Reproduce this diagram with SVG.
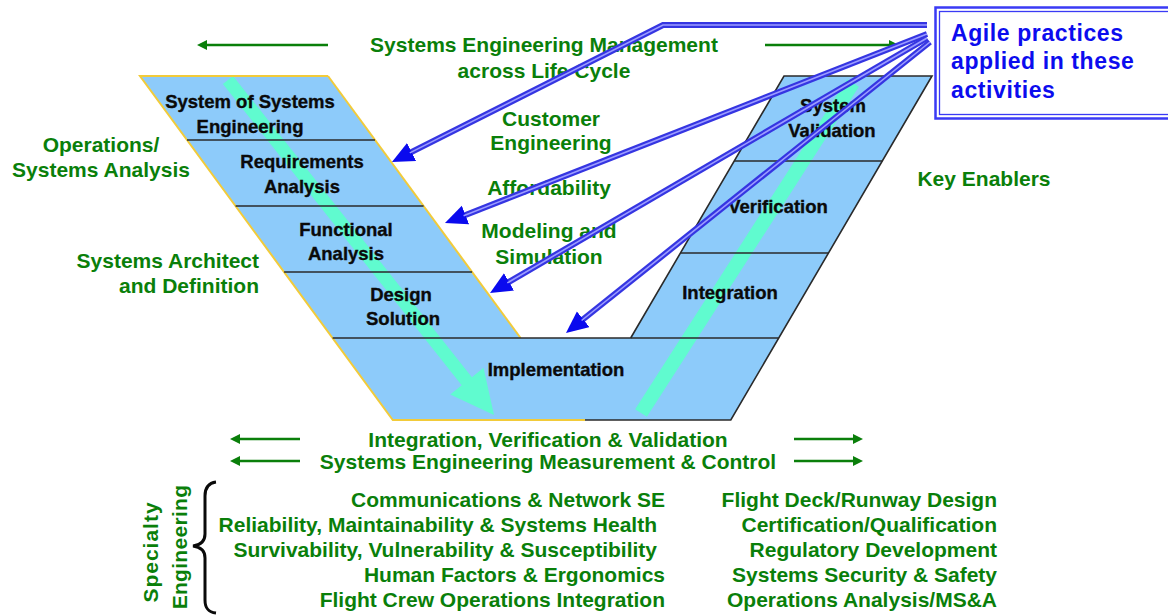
<svg xmlns="http://www.w3.org/2000/svg" width="1168" height="615" viewBox="0 0 1168 615">
<defs>
<style>
.stage{fill:#8DCBFA;stroke:none}
.yl{stroke:#F2CB3A;stroke-width:2;fill:none}
.dk{stroke:#2A2A2A;stroke-width:1.6;fill:none}
.bt{font-family:"Liberation Sans",Arial,sans-serif;font-weight:bold;font-size:18.5px;fill:#0A0A0A;stroke:#0A0A0A;stroke-width:0.35;text-anchor:middle}
.gt{font-family:"Liberation Sans",Arial,sans-serif;font-weight:bold;font-size:21px;fill:#0A7F0A;text-anchor:middle}
.ge{text-anchor:end}
.at{font-family:"Liberation Sans",Arial,sans-serif;font-weight:bold;font-size:23px;fill:#0C0CEE;letter-spacing:0.6px}
.aqua{fill:#5CFFCB;opacity:0.92}
.bo{stroke:#3535E2;stroke-width:6;fill:none}
.bi{stroke:#9C9CFF;stroke-width:1.6;fill:none}
.ga{stroke:#0A7F0A;stroke-width:2.5;fill:none}
</style>
<marker id="bh" markerUnits="userSpaceOnUse" markerWidth="24" markerHeight="22" refX="2" refY="10" orient="auto">
<path d="M0,0 L22,10 L0,20 Z" fill="#0A0AEE"/>
</marker>
<marker id="gh" markerUnits="userSpaceOnUse" markerWidth="12" markerHeight="10" refX="1" refY="5" orient="auto">
<path d="M0,0 L10,5 L0,10 Z" fill="#0A7F0A"/>
</marker>
</defs>
<rect width="1168" height="615" fill="#FFFFFF"/>

<g id="stages">
<g id="sos"><polygon class="stage" points="140,76 328,76 375,140 187,140"/></g>
<g id="req"><polygon class="stage" points="187,140 375,140 423.6,206 235.6,206"/></g>
<g id="func"><polygon class="stage" points="235.6,206 423.6,206 472.1,272 284.1,272"/></g>
<g id="design"><polygon class="stage" points="284.1,272 472.1,272 520.6,338 332.6,338"/></g>
<g id="impl"><polygon class="stage" points="332.6,338 778.7,338 730.8,420 392.8,420"/></g>
<g id="valid"><polygon class="stage" points="784,76 932,76 882.3,161 734.3,161"/></g>
<g id="verif"><polygon class="stage" points="734.3,161 882.3,161 828.5,253 680.5,253"/></g>
<g id="integ"><polygon class="stage" points="680.5,253 828.5,253 778.7,338 630.7,338"/></g>
</g>

<g id="flow">
<polygon class="aqua" points="233.1,76 471.9,377.2 483.5,367.8 494,415 450.2,394.6 461.7,385.2 222.9,84.1"/>
<polygon class="aqua" points="646.9,416.8 858.9,86.8 847.1,79.2 635.1,409.2"/>
</g>

<g id="borders">
<polyline class="yl" points="328,76 140,76 392.8,420 585,420"/>
<line class="yl" x1="328" y1="76" x2="520.6" y2="338"/>
<line class="dk" x1="187" y1="140" x2="375" y2="140"/>
<line class="dk" x1="235.6" y1="206" x2="423.6" y2="206"/>
<line class="dk" x1="284.1" y1="272" x2="472.1" y2="272"/>
<line class="dk" x1="332.6" y1="338" x2="778.7" y2="338"/>
<polyline class="dk" points="630.7,338 784,76 932,76 730.8,420 585,420"/>
<line class="dk" x1="734.3" y1="161" x2="882.3" y2="161"/>
<line class="dk" x1="680.5" y1="253" x2="828.5" y2="253"/>
</g>

<g id="stage-labels">
<text class="bt" x="250" y="108">System of Systems</text>
<text class="bt" x="250" y="133">Engineering</text>
<text class="bt" x="302" y="168">Requirements</text>
<text class="bt" x="302" y="193">Analysis</text>
<text class="bt" x="346" y="236">Functional</text>
<text class="bt" x="346" y="260">Analysis</text>
<text class="bt" x="401" y="301">Design</text>
<text class="bt" x="403" y="325">Solution</text>
<text class="bt" x="556" y="376">Implementation</text>
<text class="bt" x="833" y="112">System</text>
<text class="bt" x="832" y="137">Validation</text>
<text class="bt" x="778" y="213">Verification</text>
<text class="bt" x="730" y="299">Integration</text>
</g>

<g id="enablers">
<text class="gt" x="544" y="52">Systems Engineering Management</text>
<text class="gt" x="544" y="78">across Life Cycle</text>
<text class="gt" x="551" y="126">Customer</text>
<text class="gt" x="551" y="150">Engineering</text>
<text class="gt" x="549" y="195">Affordability</text>
<text class="gt" x="549" y="238">Modeling and</text>
<text class="gt" x="549" y="264">Simulation</text>
<text class="gt" x="101" y="152">Operations/</text>
<text class="gt" x="101" y="177">Systems Analysis</text>
<text class="gt ge" x="259" y="268">Systems Architect</text>
<text class="gt ge" x="259" y="293">and Definition</text>
<text class="gt" x="984" y="186">Key Enablers</text>
<text class="gt" x="548" y="447">Integration, Verification &amp; Validation</text>
<text class="gt" x="548" y="469">Systems Engineering Measurement &amp; Control</text>
</g>

<g id="specialty">
<text class="gt" transform="translate(158,552) rotate(-90)" letter-spacing="1">Specialty</text>
<text class="gt" transform="translate(187,547) rotate(-90)" letter-spacing="0.3">Engineering</text>
<path d="M216,482 C208,483 205,488 205,496 L205,534 C205,541 201,545 193,546 C201,547 205,551 205,558 L205,600 C205,608 208,612 216,613" fill="none" stroke="#0A0A0A" stroke-width="3"/>
<text class="gt ge" x="665" y="507">Communications &amp; Network SE</text>
<text class="gt ge" x="657" y="532">Reliability, Maintainability &amp; Systems Health</text>
<text class="gt ge" x="657" y="557">Survivability, Vulnerability &amp; Susceptibility</text>
<text class="gt ge" x="665" y="582">Human Factors &amp; Ergonomics</text>
<text class="gt ge" x="665" y="607">Flight Crew Operations Integration</text>
<text class="gt ge" x="997" y="507">Flight Deck/Runway Design</text>
<text class="gt ge" x="997" y="532">Certification/Qualification</text>
<text class="gt ge" x="997" y="557">Regulatory Development</text>
<text class="gt ge" x="997" y="582">Systems Security &amp; Safety</text>
<text class="gt ge" x="997" y="607">Operations Analysis/MS&amp;A</text>
</g>

<g id="agile">
<rect x="935.5" y="7.5" width="240" height="111" fill="#FFFFFF" stroke="#3A3AF5" stroke-width="2.5"/>
<rect x="939.5" y="11.5" width="240" height="103" fill="none" stroke="#3A3AF5" stroke-width="1.3"/>
<text class="at" x="951" y="41">Agile practices</text>
<text class="at" x="951" y="69">applied in these</text>
<text class="at" x="951" y="98">activities</text>
</g>

<g id="connectors">
<line class="ga" x1="328" y1="45" x2="206" y2="45" marker-end="url(#gh)"/>
<line class="ga" x1="765" y1="45" x2="890" y2="45" marker-end="url(#gh)"/>
<line class="ga" x1="300" y1="439" x2="239" y2="439" marker-end="url(#gh)"/>
<line class="ga" x1="300" y1="461" x2="239" y2="461" marker-end="url(#gh)"/>
<line class="ga" x1="794" y1="439" x2="854" y2="439" marker-end="url(#gh)"/>
<line class="ga" x1="794" y1="461" x2="854" y2="461" marker-end="url(#gh)"/>
<polyline class="bo" points="927,25 663,25 409.8,152.9" marker-end="url(#bh)"/>
<polyline class="bi" points="927,25 663,25 409.8,152.9"/>
<line class="bo" x1="927" y1="34" x2="463.6" y2="215.7" marker-end="url(#bh)"/>
<line class="bi" x1="927" y1="34" x2="463.6" y2="215.7"/>
<line class="bo" x1="927" y1="38" x2="507.3" y2="282.9" marker-end="url(#bh)"/>
<line class="bi" x1="927" y1="38" x2="507.3" y2="282.9"/>
<line class="bo" x1="930" y1="42" x2="581.6" y2="320.5" marker-end="url(#bh)"/>
<line class="bi" x1="930" y1="42" x2="581.6" y2="320.5"/>
</g>
</svg>
